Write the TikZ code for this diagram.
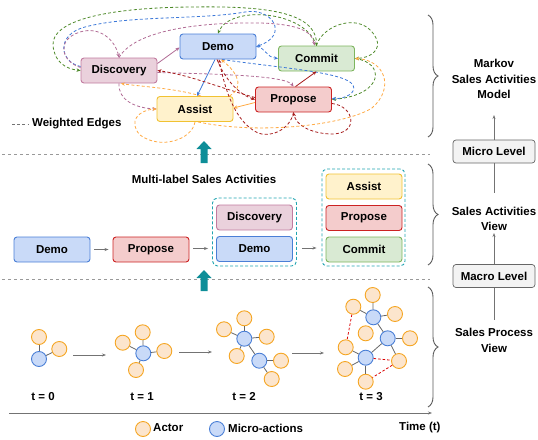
\documentclass[tikz,border=0pt]{standalone}
\usepackage{fontspec}
\setmainfont{Liberation Sans}
\usetikzlibrary{arrows.meta,calc,decorations.pathreplacing}
\definecolor{demF}{HTML}{C9DAF8}\definecolor{demD}{HTML}{4A7FD6}
\definecolor{comF}{HTML}{D9EAD3}\definecolor{comD}{HTML}{7DB55E}
\definecolor{disF}{HTML}{EAD1DC}\definecolor{disD}{HTML}{C27BA0}
\definecolor{proF}{HTML}{F4CCCC}\definecolor{proD}{HTML}{CC2222}
\definecolor{assF}{HTML}{FFF2CC}\definecolor{assD}{HTML}{F1C232}
\definecolor{eG}{HTML}{4E8A2A}\definecolor{eB}{HTML}{3C78D8}
\definecolor{eP}{HTML}{B06A94}\definecolor{eR}{HTML}{A61C1C}
\definecolor{eO}{HTML}{FFAA44}
\definecolor{tealD}{HTML}{1FA3B0}\definecolor{tealA}{HTML}{0E8E98}
\definecolor{actF}{HTML}{FCE5CD}\definecolor{actD}{HTML}{F5A623}
\definecolor{lvlF}{HTML}{F3F3F3}
\begin{document}
\begin{tikzpicture}[x=1pt,y=-1pt,
 every node/.style={font=\fontsize{11.5}{15.5}\selectfont\bfseries, text=black},
 act/.style={draw, rounded corners=3pt, minimum width=76pt, minimum height=25pt, inner sep=0pt, line width=0.9pt},
 lvl/.style={draw=black!60, fill=lvlF, rounded corners=3pt, minimum width=82pt, minimum height=23pt, inner sep=0pt, line width=0.7pt},
 wd/.style={line width=0.8pt, dash pattern=on 3pt off 2.2pt},
 sl/.style={line width=0.8pt},
 tip/.style={-{Stealth[length=4pt,width=3.5pt]}},
 grp/.style={draw=tealD, dash pattern=on 3pt off 2pt, line width=0.9pt, rounded corners=5pt, inner sep=0pt},
 actor/.style={circle, draw=actD, fill=actF, line width=0.9pt, minimum size=15pt, inner sep=0pt},
 micro/.style={circle, draw=demD, fill=demF, line width=0.9pt, minimum size=15pt, inner sep=0pt},
 lk/.style={draw=black!60, line width=0.8pt},
 rlk/.style={draw=red!85!black, line width=0.8pt, dash pattern=on 2.5pt off 2pt},
 brc/.style={decorate, decoration={brace, amplitude=10pt}, draw=black!65, line width=0.9pt},
 garrow/.style={draw=black!55, line width=0.8pt, -{Stealth[length=4pt,width=3pt]}},
 sepl/.style={draw=black!40, line width=0.8pt, dash pattern=on 3pt off 3pt}
]
\useasboundingbox (0,0) rectangle (538,439);

% ---------- top graph ----------
\node[act, fill=demF, draw=demD] (dem) at (218,46.5) {Demo};
\node[act, fill=comF, draw=comD] (cm) at (316.5,58.5) {Commit};
\node[act, fill=disF, draw=disD] (dis) at (119,70.5) {Discovery};
\node[act, fill=proF, draw=proD] (pr) at (293.5,99.5) {Propose};
\node[act, fill=assF, draw=assD] (as) at (195,109) {Assist};

% green
\draw[wd, eG, tip] (cm.north) .. controls (318,10) and (260,6) .. (190,7) .. controls (100,8) and (52,22) .. (53,45) .. controls (54,62) and (66,69) .. (dis.west);
\draw[wd, eG, tip] (cm.north) .. controls (305,10) and (230,5) .. (dem.north);
\draw[wd, eG, tip] (cm.north) .. controls (322,25) and (362,10) .. (376,38) .. controls (382,50) and (370,58) .. (cm.east);
\draw[wd, eG, tip] (cm.east) .. controls (385,62) and (385,95) .. (pr.east);
% blue
\draw[wd, eB, tip] ($(dis.west)+(0,-4)$) .. controls (60,62) and (55,35) .. (85,27) .. controls (130,15) and (200,20) .. (245,12) .. controls (272,7) and (290,35) .. (dem.east);
\draw[wd, eB, tip] (dem.east) .. controls (266,48) and (266,57) .. (cm.west);
\draw[wd, eB, tip] ($(dem.south)+(4,0)$) .. controls (280,68) and (345,72) .. (353,85) .. controls (357,93) and (345,99) .. ($(pr.east)+(0,-1)$);
\draw[sl, eB, tip] ($(dem.south)+(-3,0)$) -- ($(as.north)+(2,0)$);
% pink
\draw[wd, eP, tip] (dis.north) .. controls (135,30) and (200,22) .. (260,23) .. controls (295,24) and (312,30) .. ($(cm.north)+(-2,0)$);
\draw[wd, eP, tip] ($(dis.west)+(0,-3)$) .. controls (62,62) and (55,40) .. (80,32) .. controls (100,26) and (115,40) .. (dis.north);
\draw[wd, eP, tip] ($(dis.east)+(0,2)$) .. controls (210,74) and (285,75) .. (pr.north);
\draw[sl, eP, tip] ($(dis.east)+(0,-7)$) -- ($(dem.west)+(0,1)$);
\draw[wd, eP, tip] (dis.south) .. controls (118,100) and (135,108) .. (as.west);
% red
\draw[wd, eR, tip] ($(pr.west)+(0,-2)$) .. controls (220,88) and (190,75) .. (dis.east);
\draw[wd, eR, tip] ($(dem.south)+(-1,0)$) .. controls (225,80) and (240,95) .. (pr.west);
\draw[wd, eR, tip] (pr.south) .. controls (290,130) and (270,138) .. (258,133) .. controls (235,122) and (225,90) .. ($(dem.south)+(1,0)$);
\draw[wd, eR, tip] ($(pr.east)+(0,4)$) .. controls (355,106) and (360,135) .. (330,134) .. controls (310,133) and (296,125) .. (pr.south);
\draw[sl, eR, tip] ($(pr.north)+(2,0)$) -- (cm.south);
% orange
\draw[sl, eO, tip] ($(pr.west)+(0,3)$) -- ($(as.east)+(0,-1)$);
\draw[wd, eO, tip] ($(as.north)+(6,0)$) .. controls (175,88) and (135,86) .. ($(dis.south)+(2,0)$);
\draw[wd, eO, tip] (as.south) .. controls (192,140) and (160,150) .. (140,135) .. controls (128,122) and (138,110) .. (as.west);
\draw[wd, eO, tip] ($(as.north east)+(-4,0)$) .. controls (248,85) and (232,68) .. ($(dem.south)+(3,0)$);
\draw[wd, eO, tip] ($(as.south)+(3,0)$) .. controls (260,135) and (345,125) .. (372,108) .. controls (395,88) and (385,60) .. (cm.east);

% legend
\coordinate (wl1) at (12,124);
\coordinate (wl2) at (29,124);
\draw[line width=0.8pt, black!55, dash pattern=on 3pt off 2.2pt] (wl1) -- (wl2);
\node[anchor=west, inner sep=0pt] (wlt) at (32,124) {Weighted Edges};

% separators
\coordinate (s1a) at (2,154); \coordinate (s1b) at (430,154);
\coordinate (s2a) at (2,279); \coordinate (s2b) at (430,279);
\draw[sepl] (s1a) -- (s1b);
\draw[sepl] (s2a) -- (s2b);

% teal block arrows
\fill[tealA] (200.5,163) -- (200.5,149) -- (196.5,149) -- (204,141) -- (211.5,149) -- (207.5,149) -- (207.5,163) -- cycle;
\fill[tealA] (200.5,291) -- (200.5,278) -- (196.5,278) -- (204,270) -- (211.5,278) -- (207.5,278) -- (207.5,291) -- cycle;

% ---------- middle ----------
\node (mlt) at (204,179) {Multi-label Sales Activities};
\node[act, fill=demF, draw=demD] (m1) at (52,249.5) {Demo};
\node[act, fill=proF, draw=proD] (m2) at (151,249.5) {Propose};
\node[grp, minimum width=84pt, minimum height=68pt] (g1) at (254.5,232) {};
\node[act, fill=disF, draw=disD] (m3) at (254.5,217.5) {Discovery};
\node[act, fill=demF, draw=demD] (m4) at (254.5,249) {Demo};
\node[grp, minimum width=83pt, minimum height=97pt] (g2) at (363.5,217.5) {};
\node[act, fill=assF, draw=assD] (m5) at (364,186.5) {Assist};
\node[act, fill=proF, draw=proD] (m6) at (364,218) {Propose};
\node[act, fill=comF, draw=comD] (m7) at (364,249.5) {Commit};
\draw[garrow, shorten <=4pt, shorten >=4pt] (m1) -- (m2);
\draw[garrow, shorten <=4pt, shorten >=4pt] ($(m2.east)+(0,-1)$) -- ($(m2.east -| g1.west)+(0,-1)$);
\draw[garrow, shorten <=5pt, shorten >=5pt] ($(m4 -| g1.east)+(0,-1)$) -- ($(m4 -| g2.west)+(0,-1)$);

% ---------- bottom ----------
% t = 0
\node[micro] (a0) at (39,359) {};
\node[actor] (a1) at (39,337) {};
\node[actor] (a2) at (59.3,349) {};
\draw[lk] (a0) -- (a1); \draw[lk] (a0) -- (a2);
% t = 1
\node[micro] (b0) at (143.3,353.3) {};
\node[actor] (b1) at (142.7,332.3) {};
\node[actor] (b2) at (122.7,342.7) {};
\node[actor] (b3) at (164.3,351) {};
\node[actor] (b4) at (136,370) {};
\foreach \i in {1,...,4} \draw[lk] (b0) -- (b\i);
% t = 2
\node[micro] (c0) at (244.3,338.7) {};
\node[micro] (c9) at (259.3,360.7) {};
\node[actor] (c1) at (244.3,318.3) {};
\node[actor] (c2) at (224,329.3) {};
\node[actor] (c3) at (266.7,336.7) {};
\node[actor] (c4) at (236.7,356) {};
\node[actor] (c5) at (281,360.7) {};
\node[actor] (c6) at (271.7,379) {};
\foreach \i in {1,...,4,9} \draw[lk] (c0) -- (c\i);
\draw[lk] (c9) -- (c5); \draw[lk] (c9) -- (c6);
% t = 3
\node[micro] (da) at (373.3,317.3) {};
\node[micro] (db) at (387.7,338.3) {};
\node[micro] (dc) at (365.7,357.7) {};
\node[actor] (d1) at (372.7,295) {};
\node[actor] (d2) at (353.3,306.7) {};
\node[actor] (d3) at (395,314) {};
\node[actor] (d4) at (365.7,333.3) {};
\node[actor] (d5) at (410,338.3) {};
\node[actor] (d6) at (345.7,347.3) {};
\node[actor] (d7) at (399,361) {};
\node[actor] (d8) at (345,369) {};
\node[actor] (d9) at (365.7,381.7) {};
\draw[lk] (da) -- (d1); \draw[lk] (da) -- (d2); \draw[lk] (da) -- (d3); \draw[lk] (da) -- (db);
\draw[lk] (db) -- (d5); \draw[lk] (db) -- (d7); \draw[lk] (db) -- (dc);
\draw[lk] (dc) -- (d6); \draw[lk] (dc) -- (d8); \draw[lk] (dc) -- (d9);
\draw[rlk] (d2) -- (d6); \draw[rlk] (dc) -- (d7); \draw[rlk] (d7) -- (d9);
% stage arrows
\coordinate (p0a) at (73,355); \coordinate (p0b) at (106,355);
\coordinate (p1a) at (179,352); \coordinate (p1b) at (212,352);
\coordinate (p2a) at (292,353); \coordinate (p2b) at (324,353);
\draw[garrow] (p0a) -- (p0b);
\draw[garrow] (p1a) -- (p1b);
\draw[garrow] (p2a) -- (p2b);
% labels
\node (l0) at (43,397) {t = 0};
\node (l1) at (142,397) {t = 1};
\node (l2) at (244,397) {t = 2};
\node (l3) at (371,397) {t = 3};
% time axis
\coordinate (ta) at (9,413); \coordinate (tb) at (432,413);
\draw[garrow] (ta) -- (tb);
\node[actor] (la) at (143,429) {};
\node[anchor=west, inner sep=0pt] (lat) at (153,428) {Actor};
\node[micro] (lm) at (217,429) {};
\node[anchor=west, inner sep=0pt] (lmt) at (228,428) {Micro-actions};
\node[anchor=west, inner sep=0pt] (tt) at (399,428) {Time (t)};

% ---------- right column ----------
\draw[brc] (428,15) -- (428,137);
\draw[brc] (428,164) -- (428,265);
\draw[brc] (428,287) -- (428,407);
\node[align=center] (mk) at (494,79) {Markov\\Sales Activities\\Model};
\node[lvl] (mic) at (494,151.5) {Micro Level};
\node[align=center] (sav) at (494,219) {Sales Activities\\View};
\node[lvl] (mac) at (494,276) {Macro Level};
\node[align=center] (spv) at (494,340.5) {Sales Process\\View};
\coordinate (r1) at (494,115);
\coordinate (r2) at (494,193);
\coordinate (r3) at (494,233);
\coordinate (r4) at (494,320);
\draw[garrow] (mic.north) -- (r1);
\draw[draw=black!55, line width=0.8pt] (mic.south) -- (r2);
\draw[garrow] (mac.north) -- (r3);
\draw[draw=black!55, line width=0.8pt] (mac.south) -- (r4);
\end{tikzpicture}
\end{document}
